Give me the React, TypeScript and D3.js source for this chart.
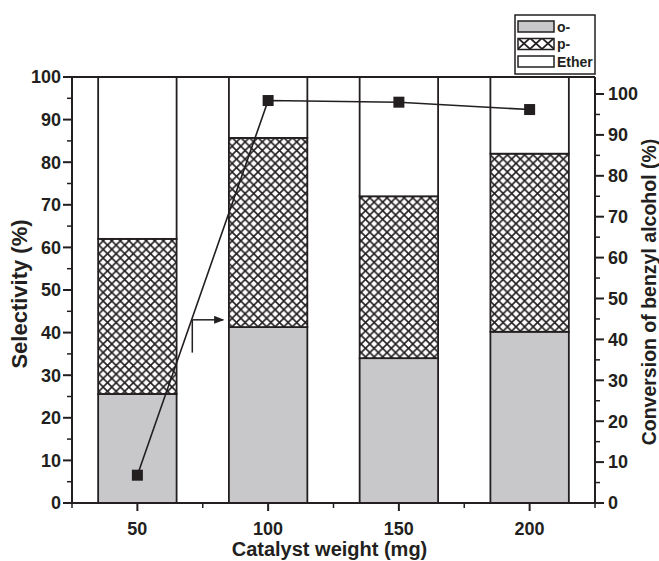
import React from "react";
import * as d3 from "d3";

const categories = [50, 100, 150, 200];
const oSel = [25.6, 41.3, 34.0, 40.2];
const pSel = [36.4, 44.4, 38.0, 41.8];
const etherSel = [38.0, 14.3, 28.0, 18.0];
const conversion = [6.8, 98.4, 98.0, 96.2];
const leftTicks = [0, 10, 20, 30, 40, 50, 60, 70, 80, 90, 100];
const rightTicks = [0, 10, 20, 30, 40, 50, 60, 70, 80, 90, 100];
const legendLabels = ["o-", "p-", "Ether"];

const W = 659, H = 561;
const L = 72, R = 595, T = 77, B = 503;
const FONT = "'Liberation Sans', Arial, sans-serif";
const INK = "#231f20";

export default function App() {
  const x = d3.scaleLinear().domain([25, 225]).range([L, R]);
  const yL = d3.scaleLinear().domain([0, 100]).range([B, T]);
  const yR = d3.scaleLinear().domain([0, 100]).range([B, 94]);
  const barHalf = 15;

  const stacks = categories.map((c, i) => {
    const o = oSel[i], p = pSel[i], e = etherSel[i];
    return [
      { key: "o", y0: 0, y1: o, fill: "#c8c8ca" },
      { key: "p", y0: o, y1: o + p, fill: "url(#hatch)" },
      { key: "e", y0: o + p, y1: Math.min(100, o + p + e), fill: "#ffffff" },
    ];
  });

  const line = d3
    .line<number>()
    .x((_, i) => x(categories[i]))
    .y((v) => yR(v));

  const xMajor = categories;
  const xMinor = [25, 75, 125, 175, 225];
  const leftMinor = d3.range(5, 100, 10);
  const rightMinor = d3.range(5, 100, 10);

  const legendX = 515, legendY = 15;

  return (
    <svg
      width={W}
      height={H}
      style={{ position: "absolute", left: 0, top: 0, background: "#fff" }}
      fontFamily={FONT}
    >
      <defs>
        <pattern id="hatch" patternUnits="userSpaceOnUse" width={8.6} height={8.6}>
          <rect width={8.6} height={8.6} fill="#fff" />
          <path d="M0,0 L8.6,8.6 M8.6,0 L0,8.6" stroke={INK} strokeWidth={1.6} />
        </pattern>
        <pattern id="hatchLeg" patternUnits="userSpaceOnUse" width={12} height={11} x={518} y={38}>
          <rect width={12} height={11} fill="#fff" />
          <path d="M0,0 L12,11 M12,0 L0,11" stroke={INK} strokeWidth={1.7} />
        </pattern>
        <marker id="arrowHead" markerWidth={10} markerHeight={8} refX={9} refY={4} orient="auto" markerUnits="userSpaceOnUse">
          <path d="M0,0 L10,4 L0,8 Z" fill={INK} />
        </marker>
      </defs>

      {/* bars */}
      {stacks.map((segs, i) =>
        segs.map((s) => (
          <rect
            key={`${i}-${s.key}`}
            x={x(categories[i] - barHalf)}
            y={yL(s.y1)}
            width={x(categories[i] + barHalf) - x(categories[i] - barHalf)}
            height={yL(s.y0) - yL(s.y1)}
            fill={s.fill}
            stroke={INK}
            strokeWidth={1.8}
          />
        ))
      )}

      {/* frame */}
      <line x1={L} x2={R} y1={T} y2={T} stroke={INK} strokeWidth={2} />
      <line x1={L} x2={R} y1={B} y2={B} stroke={INK} strokeWidth={2} />
      <line x1={L} x2={L} y1={T} y2={B} stroke={INK} strokeWidth={2} />
      <line x1={R} x2={R} y1={T} y2={B} stroke={INK} strokeWidth={2} />

      {/* left axis */}
      {leftTicks.map((t) => (
        <g key={`l${t}`}>
          <line x1={L - 9} x2={L} y1={yL(t)} y2={yL(t)} stroke={INK} strokeWidth={2} />
          <text x={L - 11} y={yL(t)} dy="0.35em" textAnchor="end" fontSize={18} fontWeight="bold" fill={INK}>
            {t}
          </text>
        </g>
      ))}
      {leftMinor.map((t) => (
        <line key={`lm${t}`} x1={L - 5} x2={L} y1={yL(t)} y2={yL(t)} stroke={INK} strokeWidth={1.5} />
      ))}

      {/* right axis */}
      {rightTicks.map((t) => (
        <g key={`r${t}`}>
          <line x1={R} x2={R + 9} y1={yR(t)} y2={yR(t)} stroke={INK} strokeWidth={2} />
          <text x={R + 13} y={yR(t)} dy="0.35em" textAnchor="start" fontSize={18} fontWeight="bold" fill={INK}>
            {t}
          </text>
        </g>
      ))}
      {rightMinor.map((t) => (
        <line key={`rm${t}`} x1={R} x2={R + 5} y1={yR(t)} y2={yR(t)} stroke={INK} strokeWidth={1.5} />
      ))}

      {/* bottom axis */}
      {xMajor.map((t) => (
        <g key={`x${t}`}>
          <line x1={x(t)} x2={x(t)} y1={B} y2={B + 8} stroke={INK} strokeWidth={2} />
          <text x={x(t)} y={B + 32} textAnchor="middle" fontSize={18} fontWeight="bold" fill={INK}>
            {t}
          </text>
        </g>
      ))}
      {xMinor.map((t) => (
        <line key={`xm${t}`} x1={x(t)} x2={x(t)} y1={B} y2={B + 5} stroke={INK} strokeWidth={1.5} />
      ))}

      {/* conversion line */}
      <path d={line(conversion) || ""} fill="none" stroke={INK} strokeWidth={1.6} />
      {conversion.map((v, i) => (
        <rect key={`m${i}`} x={x(categories[i]) - 5.5} y={yR(v) - 5.5} width={11} height={11} fill={INK} />
      ))}

      {/* arrow annotation */}
      <line x1={x(71)} x2={x(71)} y1={yL(43)} y2={yL(35.3)} stroke={INK} strokeWidth={1.5} />
      <line x1={x(71)} x2={x(82.8)} y1={yL(43)} y2={yL(43)} stroke={INK} strokeWidth={1.5} markerEnd="url(#arrowHead)" />

      {/* axis titles */}
      <text
        transform={`translate(${27},${(T + B) / 2 + 4}) rotate(-90)`}
        textAnchor="middle"
        fontSize={22}
        fontWeight="bold"
        fill={INK}
      >
        Selectivity (%)
      </text>
      <text
        transform={`translate(${656},${(T + B) / 2 + 2}) rotate(-90)`}
        textAnchor="middle"
        fontSize={19.5}
        fontWeight="bold"
        fill={INK}
      >
        Conversion of benzyl alcohol (%)
      </text>
      <text x={(L + R) / 2 - 4} y={556} textAnchor="middle" fontSize={20} fontWeight="bold" fill={INK}>
        Catalyst weight (mg)
      </text>

      {/* legend */}
      <rect x={legendX} y={legendY} width={R - legendX} height={74 - legendY} fill="#fff" stroke={INK} strokeWidth={1.5} />
      {legendLabels.map((lab, i) => (
        <g key={lab}>
          <rect
            x={518}
            y={21 + i * 17.5}
            width={36}
            height={11}
            fill={i === 0 ? "#c8c8ca" : i === 1 ? "url(#hatchLeg)" : "#fff"}
            stroke={INK}
            strokeWidth={1.5}
          />
          <text x={557} y={21 + i * 17.5 + 5.5} dy="0.36em" fontSize={14} fontWeight="bold" fill={INK}>
            {lab}
          </text>
        </g>
      ))}
    </svg>
  );
}
